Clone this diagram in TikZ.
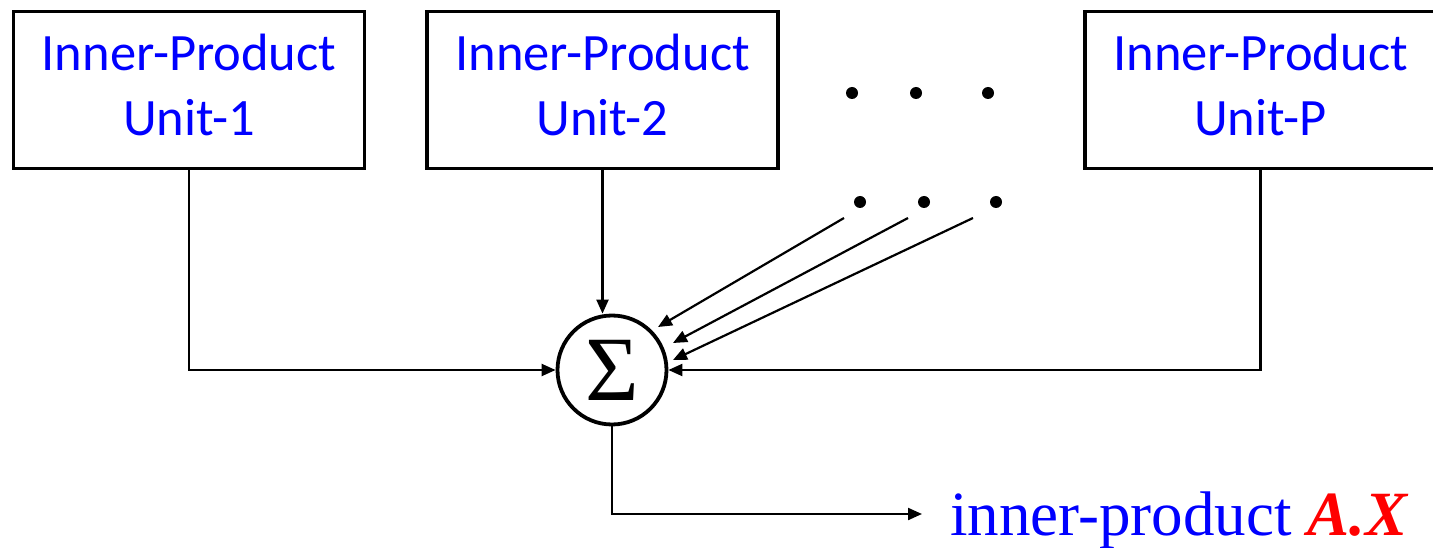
\documentclass[tikz,border=0pt]{standalone}
\usepackage{fontspec}
\newfontfamily\calibrifont{Carlito}
\newfontfamily\tnrfont{Liberation Serif}
\usetikzlibrary{arrows.meta}
\definecolor{ipblue}{RGB}{0,0,255}
\definecolor{ipred}{RGB}{255,0,0}
\begin{document}
\begin{tikzpicture}[x=1pt,y=-1pt,
  unitbox/.style={draw, line width=3.5pt, minimum width=351pt, minimum height=157pt,
    inner sep=0pt, align=center, font=\calibrifont\fontsize{52.5}{65}\selectfont, text=ipblue},
  conn/.style={line width=2.2pt},
  arr/.style={conn, -{Triangle[length=14pt,width=12pt]}},
  dot/.style={fill=black}]
\useasboundingbox (0,0) rectangle (1433,548);
\node[unitbox] (b1) at (189,90) {Inner-Product\\Unit-1\rule[-10pt]{0pt}{0pt}};
\node[unitbox] (b2) at (602.5,90) {Inner-Product\\Unit-2\rule[-10pt]{0pt}{0pt}};
\node[unitbox] (b3) at (1260.5,90) {Inner-Product\\Unit-P\rule[-10pt]{0pt}{0pt}};
\node[draw, circle, line width=3.8pt, minimum size=109pt, inner sep=0pt,
  font=\tnrfont\fontsize{92}{92}\selectfont] (s) at (612,370) {Σ};
% dots
\foreach \x in {852,916,988} \fill[dot] (\x,93) circle (6pt);
\foreach \x in {860,924,996} \fill[dot] (\x,202) circle (6pt);
% slanted inputs
\coordinate (d1s) at (844,218); \coordinate (d1e) at (658,327);
\coordinate (d2s) at (908,218); \coordinate (d2e) at (673,343);
\coordinate (d3s) at (973,218); \coordinate (d3e) at (673,360);
\draw[arr] (d1s) -- (d1e);
\draw[arr] (d2s) -- (d2e);
\draw[arr] (d3s) -- (d3e);
% box connectors
\draw[arr] (b1.south) |- (s.west);
\draw[arr] (b2.south) -- (b2.south |- s.north);
\draw[arr] (b3.south) |- (s.east);
% output
\coordinate (oe) at (922,514);
\draw[arr] (s.south) |- (oe);
\node[anchor=base west, inner sep=0pt, font=\tnrfont\fontsize{63}{63}\selectfont, text=ipblue]
  (res) at (950,535) {inner-product \textcolor{ipred}{\bfseries\itshape A.X}};
\end{tikzpicture}
\end{document}
